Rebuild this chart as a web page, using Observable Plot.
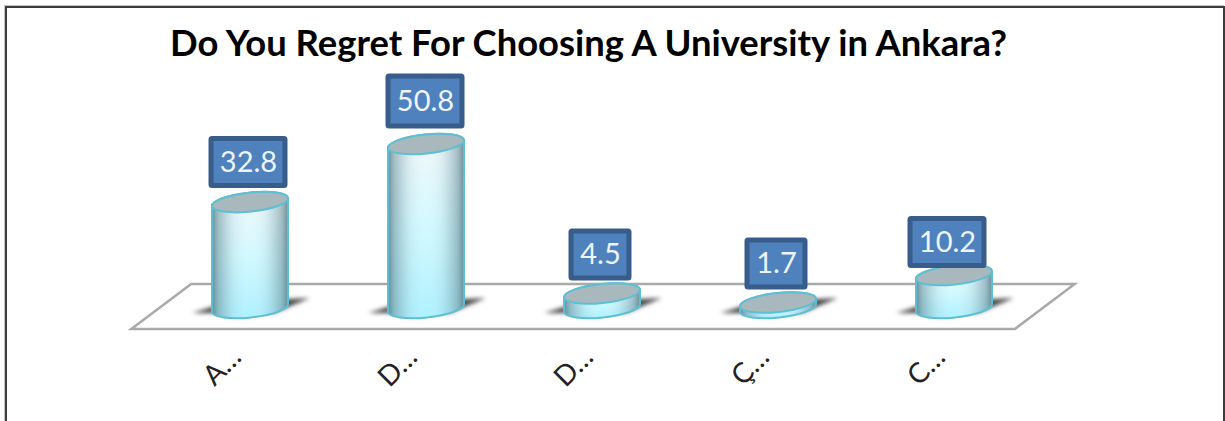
<!DOCTYPE html>
<html>
<head>
<meta charset="utf-8">
<script src="https://cdn.jsdelivr.net/npm/d3@7"></script>
<script src="https://cdn.jsdelivr.net/npm/@observablehq/plot@0.6"></script>
<style>
  html, body { margin: 0; padding: 0; background: #fff; overflow: hidden; }
  #chart { position: relative; width: 1225px; height: 421px; }
  #chart svg { position: absolute; left: 0; top: 0; }
  #border {
    position: absolute; left: 5px; top: 6px; width: 1216px; height: 415px;
    border: solid #3c3c3c; border-width: 2px 2px 0 2px; box-sizing: content-box;
    box-shadow: -1px -1px 0 #c4c4c4;
  }
</style>
</head>
<body>
<div id="chart"><div id="border"></div></div>
<script>
const chartTitle = "Do You Regret For Choosing A University in Ankara?";
const answers = [0, 1, 2, 3, 4];
const tickLabels = ["A…", "D…", "D…", "Ç…", "C…"];
const percents = [32.8, 50.8, 4.5, 1.7, 10.2];

const rows = answers.map((a, i) => ({answer: a, percent: percents[i]}));

// Shape of the pseudo-3D drawing
const tilt = 6;
const ry = 9.5;
const tipDy = 4;
const floorFront = 21, floorBack = 24, skewSteps = 0.34;

// Badge placement relative to the lid of its cylinder
const badgeShift = new Map([[0, [-3, -40]], [1, [-2, -43]], [2, [-3, -39]], [3, [-3, -39]], [4, [-8, -33]]]);
const badgeHeight = a => (a === 1 ? 50 : 47);

const el = (name, attrs = {}) => {
  const node = document.createElementNS("http://www.w3.org/2000/svg", name);
  for (const [k, v] of Object.entries(attrs)) node.setAttribute(k, v);
  return node;
};

function gradient(id, x2, y2, stops) {
  const g = el("linearGradient", {id, x1: 0, y1: 0, x2, y2});
  for (const [offset, color, opacity] of stops) {
    g.appendChild(el("stop", {offset, "stop-color": color, "stop-opacity": opacity ?? 1}));
  }
  return g;
}

// Gradients and the blur used by the cylinders
function defsMark() {
  const svg = el("g");
  const defs = el("defs");
  defs.appendChild(gradient("bodyLight", 0, 1, [[0, "#f2f8fa"], [0.5, "#d2f9ff"], [1, "#aef1ff"]]));
  defs.appendChild(gradient("bodyShade", 1, 0, [
    [0, "#4f7480", 0.8], [0.08, "#5b7f8a", 0.5], [0.28, "#7f9fa8", 0.14], [0.5, "#ffffff", 0],
    [0.72, "#7f9fa8", 0.14], [0.92, "#5b7f8a", 0.5], [1, "#4f7480", 0.8]
  ]));
  const blur = el("filter", {id: "soft", x: "-20%", y: "-60%", width: "140%", height: "220%"});
  blur.appendChild(el("feGaussianBlur", {stdDeviation: 2}));
  defs.appendChild(blur);
  svg.appendChild(defs);
  return svg;
}

// The white floor, a parallelogram spanning the category band
function floorMark(index, {x, y}) {
  const bw = x.bandwidth();
  const c0 = x(answers[0]) + bw / 2, c1 = x(answers[1]) + bw / 2;
  const cn = x(answers[answers.length - 1]) + bw / 2;
  const skew = (c1 - c0) * skewSteps;
  const y0 = y(0);
  const pts = [
    [c0 - 2 * skew, y0 + floorFront], [c0 - skew, y0 - floorBack],
    [cn + 2 * skew, y0 - floorBack], [cn + skew, y0 + floorFront]
  ];
  return el("path", {
    d: "M" + pts.join("L") + "Z", fill: "#fff", stroke: "#a9a9a9", "stroke-width": 2.5, "stroke-linejoin": "miter"
  });
}

// Soft cast shadow under each cylinder
function shadowMark(index, {x, y}) {
  const g = el("g", {filter: "url(#soft)"});
  const bw = x.bandwidth();
  const y0 = y(0);
  for (const r of rows) {
    const c = x(r.answer) + bw / 2;
    const a = bw / 2;
    const pts = [[c - a * 1.55, y0 + 5], [c - a * 0.6, y0 - 6], [c + a * 1.55, y0 - 10], [c + a * 0.6, y0 + 5]];
    g.appendChild(el("path", {d: "M" + pts.join("L") + "Z", fill: "#4a4a4a"}));
  }
  return g;
}

// Bars are redrawn as upright cylinders: body, shading, then the lid
function cylinders(index, scales, values) {
  const g = el("g");
  const bw = scales.x.bandwidth();
  const a = bw / 2;
  const rx = Math.hypot(a, tipDy);
  for (const i of index) {
    const c = values.x[i] + a - 1;
    const top = values.y2[i];
    const bottom = values.y1[i];
    const d = `M${c - a},${top + tipDy} A${rx},${ry} ${-tilt} 0 1 ${c + a},${top - tipDy}` +
      ` L${c + a},${bottom - tipDy} A${rx},${ry} ${-tilt} 0 1 ${c - a},${bottom + tipDy} Z`;
    g.appendChild(el("path", {d, fill: "url(#bodyLight)"}));
    g.appendChild(el("path", {d, fill: "url(#bodyShade)"}));
    g.appendChild(el("path", {d, fill: "none", stroke: "#5cbfd3", "stroke-width": 2}));
    g.appendChild(el("ellipse", {
      cx: c, cy: top, rx, ry, fill: "#a9b8bc", stroke: "#5cbfd3", "stroke-width": 2,
      transform: `rotate(${-tilt} ${c} ${top})`
    }));
  }
  return g;
}

// Value badges sit above each lid; the text itself is a Plot.text mark
function badgeMark(index, {x, y}) {
  const g = el("g");
  const bw = x.bandwidth();
  for (const r of rows) {
    const [sx, sy] = badgeShift.get(r.answer);
    const w = r.percent >= 10 ? 74 : 58;
    const h = badgeHeight(r.answer);
    const c = x(r.answer) + bw / 2 + sx;
    const m = y(r.percent) + sy;
    g.appendChild(el("rect", {
      x: c - w / 2, y: m - h / 2, width: w, height: h, rx: 1,
      fill: "#4f81bd", stroke: "#385d8a", "stroke-width": 5
    }));
  }
  return g;
}

const badgeTexts = rows.map(r => {
  const [sx, sy] = badgeShift.get(r.answer);
  return Plot.text([r], {
    x: "answer", y: "percent", text: d => d.percent.toFixed(1),
    dx: sx, dy: sy, fontSize: 29, fill: "#eef4fb"
  });
});

const chart = Plot.plot({
  width: 1225,
  height: 421,
  marginTop: 0,
  marginLeft: 111.6,
  marginRight: 130.4,
  marginBottom: 113,
  style: {background: "transparent", fontFamily: "Lato, 'Open Sans', sans-serif"},
  x: {type: "band", domain: answers, padding: 0.569, label: null},
  y: {domain: [0, 95.4], axis: null, label: null},
  marks: [
    defsMark,
    floorMark,
    shadowMark,
    Plot.barY(rows, {x: "answer", y: "percent", render: cylinders}),
    badgeMark,
    ...badgeTexts,
    Plot.axisX({
      tickSize: 0, tickPadding: 44, tickRotate: -45, dx: -15,
      tickFormat: i => tickLabels[i], fontSize: 28, fill: "#222", label: null
    }),
    Plot.text([chartTitle], {
      frameAnchor: "top-left", dx: 476.4, dy: 30, textAnchor: "middle", lineAnchor: "top",
      fontSize: 36.4, fontWeight: 700, fill: "#000"
    })
  ]
});
document.getElementById("chart").prepend(chart);
</script>
</body>
</html>
